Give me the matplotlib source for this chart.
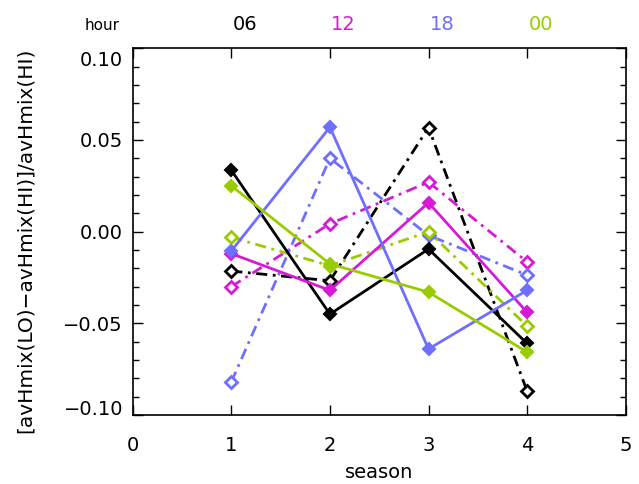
import matplotlib
matplotlib.use("Agg")
import matplotlib.pyplot as plt
import matplotlib.transforms as mtransforms
from matplotlib.ticker import MultipleLocator

# season index
season = [1, 2, 3, 4]

# hour labels and colors
hours = ["06", "12", "18", "00"]
colors = ["black", "#d61ad6", "#6e6eff", "#99cc00"]

# solid lines
solid = [
    [0.0335, -0.0450, -0.0095, -0.0610],   # 06
    [-0.0120, -0.0320, 0.0158, -0.0440],   # 12
    [-0.0105, 0.0570, -0.0640, -0.0320],   # 18
    [0.0250, -0.0176, -0.0330, -0.0657],   # 00
]
# dash-dot lines
dashed = [
    [-0.0215, -0.0268, 0.0568, -0.0870],   # 06
    [-0.0300, 0.0043, 0.0270, -0.0165],    # 12
    [-0.0820, 0.0400, -0.0020, -0.0237],   # 18
    [-0.0030, -0.0186, 0.0000, -0.0515],   # 00
]

yticks = [0.10, 0.05, 0.00, -0.05, -0.10]
ytick_labels = ["0.10", "0.05", "0.00", "\u22120.05", "\u22120.10"]

plt.rcParams["font.family"] = "DejaVu Sans"

fig = plt.figure(figsize=(6.39, 4.84), dpi=100)
ax = fig.add_axes([0.2077, 0.1426, 0.7715, 0.7576])

dashdot = (0, (4, 2, 1, 2))
for i in range(4):
    ax.plot(season, dashed[i], color=colors[i], lw=2.0, linestyle=dashdot,
            marker="D", ms=6, mfc="white", mec=colors[i], mew=2.0)
for i in range(4):
    ax.plot(season, solid[i], color=colors[i], lw=2.0, linestyle="-",
            marker="D", ms=6, mfc=colors[i], mec=colors[i], mew=1.5)

ax.set_xlim(0, 5)
ax.set_ylim(-0.10, 0.10)
ax.set_xticks([0, 1, 2, 3, 4, 5])
ax.set_xticklabels(["0", "1", "2", "3", "4", "5"], fontsize=14)
ax.set_yticks(yticks)
ax.set_yticklabels(ytick_labels, fontsize=14)
ax.yaxis.set_minor_locator(MultipleLocator(0.01))

ax.tick_params(axis="x", which="major", direction="in", top=True, bottom=True,
               length=7.5, width=1, pad=15)
ax.tick_params(axis="y", which="major", direction="in", left=True, right=True,
               length=7.5, width=1, pad=7)
ax.tick_params(axis="y", which="minor", direction="in", left=True, right=True,
               length=4.3, width=1)
for sp in ax.spines.values():
    sp.set_linewidth(1.2)

# shift outermost y labels inward like the original
labels = ax.get_yticklabels()
labels[0].set_transform(labels[0].get_transform() +
                        mtransforms.ScaledTranslation(0, -10 / 100, fig.dpi_scale_trans))
labels[-1].set_transform(labels[-1].get_transform() +
                         mtransforms.ScaledTranslation(0, 7 / 100, fig.dpi_scale_trans))

# hour legend along the top
fig.text(102 / 639, 1 - 26 / 484, "hour", fontsize=11, ha="center", va="center")
for i, h in enumerate(hours):
    ax.text(season[i] + 0.14, 1 - 24 / 484, h, color=colors[i], fontsize=14,
            ha="center", va="center",
            transform=mtransforms.blended_transform_factory(ax.transData, fig.transFigure))

fig.text(379 / 639, 1 - 473 / 484, "season", fontsize=14, ha="center", va="center")
fig.text(25 / 639, 1 - 240 / 484, "[avHmix(LO)\u2212avHmix(HI)]/avHmix(HI)",
         fontsize=14.5, rotation=90, ha="center", va="center")

fig.savefig("out.png", dpi=100)
